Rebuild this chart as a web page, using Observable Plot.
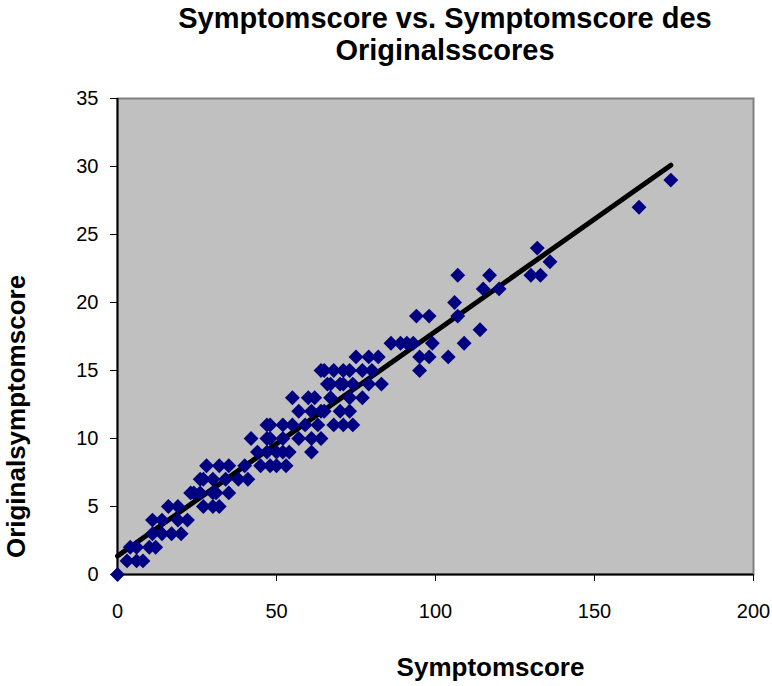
<!DOCTYPE html>
<html><head><meta charset="utf-8">
<script src="https://cdn.jsdelivr.net/npm/d3@7"></script>
<script src="https://cdn.jsdelivr.net/npm/@observablehq/plot@0.6"></script>
<style>
body{margin:0;background:#fff;font-family:"Liberation Sans",Arial,sans-serif;}
#title{width:772px;height:70px;box-sizing:border-box;padding-left:118px;padding-top:2px;text-align:center;font-weight:bold;font-size:29px;line-height:32px;color:#000;}
</style></head>
<body>
<div id="title">Symptomscore vs. Symptomscore des<br>Originalsscores</div>
<div id="chart"></div>
<script>
const titleText = "Symptomscore vs. Symptomscore des Originalsscores";
const xLabel = "Symptomscore";
const yLabel = "Originalsymptomscore";
const xTicks = [0, 50, 100, 150, 200];
const yTicks = [0, 5, 10, 15, 20, 25, 30, 35];

// Symptomscore (x) and Originalsymptomscore (y)
const symptomScore = [
  0,
  3, 6, 8,
  4, 6, 10, 12,
  11, 14, 17, 20,
  11, 14, 19, 22,
  16, 19, 27, 30, 32,
  23, 24, 26, 30, 31, 35,
  26, 27, 30, 34, 38, 41,
  28, 32, 35, 40, 45, 48, 50, 53,
  44, 47, 50, 52, 54, 61,
  42, 47, 48, 52, 57, 61, 64,
  47, 48, 52, 55, 59, 63, 68, 71, 74,
  57, 61, 64, 65, 70, 73,
  55, 60, 62, 67, 73, 77,
  66, 67, 70, 71, 74, 79, 83,
  64, 65, 68, 71, 73, 77, 80, 95,
  75, 79, 82, 95, 98, 104,
  86, 89, 91, 93, 99, 109,
  114,
  94, 98, 107,
  106,
  115, 120,
  107, 117, 130, 133,
  136,
  132,
  164,
  174
];
const originalScore = [
  0,
  1, 1, 1,
  2, 2, 2, 2,
  3, 3, 3, 3,
  4, 4, 4, 4,
  5, 5, 5, 5, 5,
  6, 6, 6, 6, 6, 6,
  7, 7, 7, 7, 7, 7,
  8, 8, 8, 8, 8, 8, 8, 8,
  9, 9, 9, 9, 9, 9,
  10, 10, 10, 10, 10, 10, 10,
  11, 11, 11, 11, 11, 11, 11, 11, 11,
  12, 12, 12, 12, 12, 12,
  13, 13, 13, 13, 13, 13,
  14, 14, 14, 14, 14, 14, 14,
  15, 15, 15, 15, 15, 15, 15, 15,
  16, 16, 16, 16, 16, 16,
  17, 17, 17, 17, 17, 17,
  18,
  19, 19, 19,
  20,
  21, 21,
  22, 22, 22, 22,
  23,
  24,
  27,
  29
];

const data = symptomScore.map((s, i) => ({x: s, y: originalScore[i]}));
const font = '"Liberation Sans", Arial, sans-serif';

const chart = Plot.plot({
  width: 772,
  height: 616,
  marginTop: 28,
  marginBottom: 112,
  marginLeft: 117,
  marginRight: 19,
  style: {fontFamily: font, fontSize: "20px", color: "#000", background: "#fff", overflow: "visible"},
  x: {domain: [0, 200], label: null},
  y: {domain: [0, 35], label: null},
  marks: [
    Plot.frame({fill: "#c0c0c0", stroke: "#808080", strokeWidth: 2}),
    Plot.axisX({ticks: xTicks, tickSize: 7, tickPadding: 22, label: null, tickFormat: d => String(d), fontSize: 20}),
    Plot.axisY({ticks: yTicks, tickSize: 7, tickPadding: 12, label: null, tickFormat: d => String(d), fontSize: 20}),
    Plot.ruleX([0], {stroke: "#000", strokeWidth: 2}),
    Plot.ruleY([0], {stroke: "#000", strokeWidth: 2}),
    Plot.linearRegressionY(data, {x: "x", y: "y", stroke: "#000", strokeWidth: 5, ci: 0, strokeLinecap: "round"}),
    Plot.dot(data, {x: "x", y: "y", symbol: "diamond2", r: 6.7, fill: "#000080", stroke: null}),
    Plot.text([xLabel], {frameAnchor: "bottom", textAnchor: "middle", dx: 55, dy: 101, fontSize: 26, fontWeight: "bold", fill: "#000"}),
    Plot.text([yLabel], {frameAnchor: "left", textAnchor: "middle", rotate: -90, dx: -101, dy: 80, fontSize: 26, fontWeight: "bold", fill: "#000"})
  ]
});
document.getElementById("chart").appendChild(chart);
</script>
</body></html>
